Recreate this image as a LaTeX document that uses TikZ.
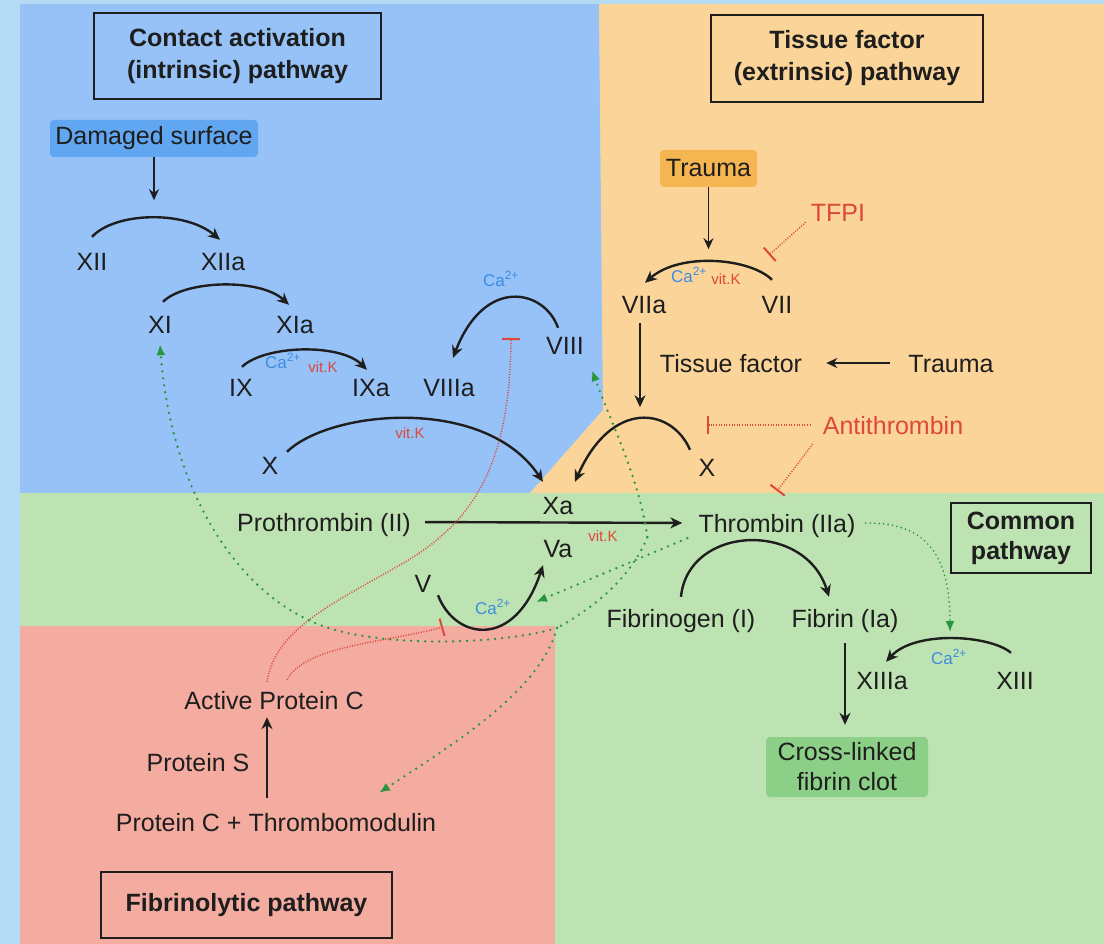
\documentclass[tikz,border=0pt]{standalone}
\usepackage{fontspec}
\setmainfont{Liberation Sans}
\usepackage{tikz}
\usetikzlibrary{arrows.meta}
\definecolor{framebg}{RGB}{180,219,243}
\definecolor{intrbg}{RGB}{150,194,247}
\definecolor{extrbg}{RGB}{250,212,152}
\definecolor{commbg}{RGB}{190,227,178}
\definecolor{fibrbg}{RGB}{244,171,160}
\definecolor{surfbox}{RGB}{96,166,240}
\definecolor{traumabox}{RGB}{245,182,82}
\definecolor{clotbox}{RGB}{140,208,136}
\definecolor{inhibred}{RGB}{222,72,58}
\definecolor{cablue}{RGB}{60,140,225}
\definecolor{actgreen}{RGB}{40,150,60}
\definecolor{ink}{RGB}{30,30,30}
\newcommand*{\calcium}{Ca\textsuperscript{2+}}
\newcommand*{\vitK}{vit.K}

\begin{document}
\begin{tikzpicture}[x=1pt, y=-1pt]
      \tikzstyle{convert}=[ink, line width=2.4pt, -{Stealth[length=12pt,width=11pt]}]
      \tikzstyle{lead}=[ink, line width=1.8pt, -{Stealth[length=11pt,width=10pt]}]
      \tikzstyle{inhibit}=[inhibred, line width=1.5pt, dash pattern=on 1pt off 1.6pt, -{Bar[width=18pt,line width=2pt]}]
      \tikzstyle{feedback}=[actgreen, line width=2.6pt, line cap=round, dash pattern=on 0pt off 7pt, -{Latex[length=11pt,width=9pt]}]

      \useasboundingbox (0,0) rectangle (1104,944);
      \fill[framebg] (0,0) rectangle (1104,944);
      \fill[intrbg] (20,4) -- (599,4) -- (603,410) -- (530,493) -- (20,493) -- cycle;
      \fill[extrbg] (599,4) -- (1104,4) -- (1104,493) -- (530,493) -- (603,410) -- cycle;
      \fill[commbg] (20,493) rectangle (1104,944);
      \fill[fibrbg] (20,626) rectangle (555,944);

      {\tikzstyle{every node}=[draw=ink, line width=1.4pt, align=center, inner sep=0pt, text=ink,
          font=\fontsize{25}{32}\selectfont\bfseries]
        \node[minimum width=287pt, minimum height=86pt] (intrhead) at (237.5,56) {Contact activation\\(intrinsic) pathway};
        \node[minimum width=272pt, minimum height=87pt] (extrhead) at (847,58.5) {Tissue factor\\(extrinsic) pathway};
        \node[minimum width=140pt, minimum height=70pt, font=\fontsize{25}{30}\selectfont\bfseries] (commhead) at (1021,538) {Common\\pathway};
        \node[minimum width=291pt, minimum height=66pt] (fibrhead) at (246.5,905) {Fibrinolytic pathway};
      }

      {\tikzstyle{every node}=[rounded corners=4pt, align=center, inner sep=0pt, text=ink,
          font=\fontsize{25}{30}\selectfont]
        \node[fill=surfbox, minimum width=208pt, minimum height=37pt] (surface) at (154,138.5) {Damaged surface};
        \node[fill=traumabox, minimum width=97pt, minimum height=37pt] (trauma) at (708.5,168.5) {Trauma};
        \node[fill=clotbox, minimum width=162pt, minimum height=60pt] (clot) at (847,767) {Cross-linked\\fibrin clot};
      }

      {\tikzstyle{every node}=[inner sep=0pt, text height=18pt, text depth=0pt, text=ink,
          font=\fontsize{25}{30}\selectfont]
        \foreach \n/\x/\y/\t in {xii/92/262/XII, xiia/223/262/XIIa, xi/160/325/XI, xia/295/325/XIa,
            ix/241/387/IX, ixa/371/387/IXa, viiia/449/387/VIIIa, viii/565/345/VIII,
            xin/270/465/X, xa/558/505/Xa, va/558/548/Va, v/423/583/V,
            prothr/324/522/Prothrombin (II), thr/777/523/Thrombin (IIa),
            fbg/681/618/Fibrinogen (I), fbn/845/618/Fibrin (Ia), xiiia/882/680/XIIIa, xiii/1015/680/XIII,
            viia/644/305/VIIa, vii/777/305/VII, tf/731/363/Tissue factor, trauma2/951/363/Trauma,
            xex/707/467/X, apc/274/700/Active Protein C, ps/198/762/Protein S,
            pctm/276/822/Protein C + Thrombomodulin}
        {
          \node (\n) at (\x,\y) {\t};
        }
        \node[text=inhibred] (tfpi) at (838,213) {TFPI};
        \node[text=inhibred] (anti) at (893,425) {Antithrombin};
      }

      {\tikzstyle{every node}=[inner sep=0pt]
        \foreach \i/\x/\y in {1/283/361, 2/501/279, 3/689/275, 4/493/607, 5/949/657}
        {
          \node[text=cablue, font=\fontsize{17}{17}\selectfont] (ca\i) at (\x,\y) {\calcium};
        }
        \foreach \j/\x/\y in {1/323/367, 2/726/279, 3/410/433, 4/603/536}
        {
          \node[text=inhibred, font=\fontsize{15}{15}\selectfont] (vk\j) at (\x,\y) {\vitK};
        }
      }

      \draw[lead] (surface.south) -- ++(0,43);
      \draw[lead] (trauma.south) -- ++(0,62);
      \draw[lead, shorten <=18pt, shorten >=24pt] (trauma2.west) -- (tf.east);
      \draw[convert] ([xshift=-4pt,yshift=-9pt]viia.south) -- ++(0,84);
      \draw[convert, shorten <=14pt, shorten >=16pt] (prothr.east) -- (thr.west);
      \draw[convert, shorten <=16pt, shorten >=12pt] (fbn.south) -- (fbn.south |- clot.north);
      \draw[convert, shorten <=15pt, shorten >=8pt] ([xshift=-9pt]pctm.north) -- ([xshift=-7pt]apc.south);

      \draw[convert] ([yshift=16pt]xii.north) .. controls (115,212) and (185,210) .. ([xshift=-3pt,yshift=13pt]xiia.north);
      \draw[convert] ([xshift=3pt,yshift=14pt]xi.north) .. controls (185,280) and (260,278) .. ([xshift=-6pt,yshift=11pt]xia.north);
      \draw[convert] ([xshift=1pt,yshift=11pt]ix.north) .. controls (265,345) and (340,343) .. ([xshift=-4pt,yshift=8pt]ixa.north);
      \draw[convert] ([xshift=-7pt,yshift=8pt]viii.north) .. controls (545,290) and (485,275) .. ([xshift=4pt,yshift=20pt]viiia.north);
      \draw[convert] ([xshift=17pt,yshift=4pt]xin.north) .. controls (330,410) and (485,395) .. ([xshift=-15pt,yshift=14pt]xa.north);
      \draw[convert] ([xshift=-17pt,yshift=8pt]xex.north) .. controls (672,408) and (612,398) .. ([xshift=17pt,yshift=14pt]xa.north);
      \draw[convert] ([xshift=-5pt,yshift=16pt]vii.north) .. controls (750,258) and (680,252) .. ([xshift=1pt,yshift=13pt]viia.north);
      \draw[convert] ([yshift=12pt]fbg.north) .. controls (688,525) and (805,520) .. ([xshift=-16pt,yshift=12pt]fbn.north);
      \draw[convert] ([xshift=-4pt,yshift=18pt]xiii.north) .. controls (990,635) and (915,630) .. ([xshift=4pt,yshift=9pt]xiiia.north);
      \draw[convert] ([xshift=15pt,yshift=-3pt]v.south) .. controls (455,640) and (515,650) .. ([xshift=-15pt,yshift=-8pt]va.south);

      \coordinate (tfpiT) at (769,255);
      \coordinate (antiT1) at (707,425);
      \coordinate (antiT2) at (777,491);
      \coordinate (apcT1) at (511,338);
      \coordinate (apcT2) at (443,627);
      \draw[inhibit] ([xshift=-5pt]tfpi.south west) -- (tfpiT);
      \draw[inhibit] ([xshift=-12pt]anti.west) -- (antiT1);
      \draw[inhibit] ([xshift=-10pt,yshift=-10pt]anti.south west) -- (antiT2);
      \draw[inhibit] ([xshift=-7pt,yshift=9pt]apc.north) .. controls (275,630) and (330,605) .. (400,565)
        .. controls (470,525) and (510,470) .. (apcT1);
      \draw[inhibit] ([xshift=13pt,yshift=11pt]apc.north) .. controls (305,645) and (390,642) .. (apcT2);

      \coordinate (thrA) at ([xshift=-11pt,yshift=-6pt]thr.south west);
      \coordinate (hub) at ([xshift=-51pt,yshift=-5pt]thr.south west);
      \coordinate (corner) at (557,628);
      \coordinate (vaAct) at (536,602);
      \coordinate (xiiiAct) at (950,632);
      \draw[feedback] (thrA) -- (vaAct);
      \draw[feedback] (hub) .. controls (640,480) and (610,420) .. ([xshift=8pt,yshift=-16pt]viii.south east);
      \draw[feedback, -] (hub) .. controls (630,580) and (590,610) .. (corner);
      \draw[feedback] (corner) .. controls (500,645) and (380,648) .. (320,625)
        .. controls (230,590) and (170,480) .. ([yshift=-10pt]xi.south);
      \draw[feedback] (corner) .. controls (540,690) and (460,740) .. ([xshift=103pt,yshift=20pt]pctm.north);
      \draw[feedback, line width=1.8pt, dash pattern=on 0pt off 4.5pt] ([xshift=10pt]thr.east)
        .. controls (930,522) and (950,560) .. (xiiiAct);
\end{tikzpicture}
\end{document}
